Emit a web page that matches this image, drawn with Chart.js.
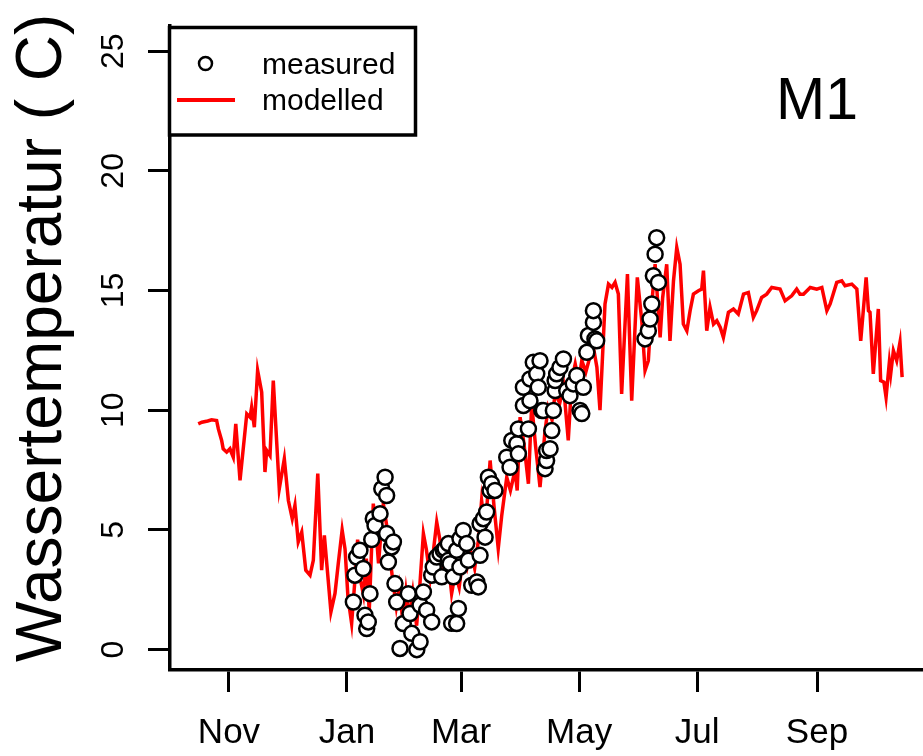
<!DOCTYPE html>
<html><head><meta charset="utf-8">
<script src="https://cdn.jsdelivr.net/npm/chart.js@4/dist/chart.umd.min.js"></script>
<style>html,body{margin:0;padding:0;background:#fff;overflow:hidden}canvas{display:block}</style>
</head><body>
<canvas id="c" width="923" height="756"></canvas>
<script>
// x values are day numbers counted from 1 October (day 0)
const monthLabels = ['Nov', 'Jan', 'Mar', 'May', 'Jul', 'Sep'];
const monthDays = [31, 92, 151, 212, 273, 335];
const yTicks = [0, 5, 10, 15, 20, 25];
const yTitle = 'Wassertemperatur ( C)';
const panelLabel = 'M1';
const legendLabels = ['measured', 'modelled'];

const modelDay = [15.1,17,20,22,24.6,25.5,27.2,28,29.8,31.5,32.4,33.2,34.5,36.7,38.5,40.2,41.9,42.7,44.1,45.8,47.9,49.6,50.5,52.2,53.9,57,59.6,61.7,63.7,65.1,66.8,68.6,70.7,72.9,74.6,76.9,78.9,80.3,83.7,85.8,87.5,89.5,91,92.5,94.4,96,97.5,99,100.5,102,103.5,105.6,107,108.3,110.8,112.5,114,115.5,117.5,119,121,122.5,124,126,128,129.5,131.5,133,135,136.5,138.4,140,141.5,143.5,146.1,148,150,152,154,156,158,160,161.6,163.5,166,168,170.2,172,174.6,176.5,178.9,180,181.5,183.5,185.8,187.5,189.5,191.8,194.4,196,198,199.6,202,204,206.4,208.2,210,211.8,213.4,215.5,217.5,219.4,221.2,222.8,225.4,227.2,229,230.6,232.3,234,237,239.2,242.1,244.4,246.1,247.8,249.6,251.3,253.9,255.2,257.3,259,260.8,262.5,264.2,265.9,267.7,269.4,271.1,273.7,275.4,276.3,278,279.7,281.5,283.2,285,286.6,289.2,291.8,294.3,297,299.5,302.1,303.8,306.4,309,311.6,315.9,318.5,321.9,324.5,326.2,328,331.5,334.9,337.5,340.1,341.8,345.2,347.8,349.5,353,355.6,357.6,360.4,361.6,362.4,364.1,366.7,367.9,369.6,370.7,372.4,373.1,374.5,376.2,377.9,379];
const modelTemp = [9.43,9.5,9.55,9.6,9.57,9.22,8.74,8.39,8.25,8.39,8.2,8.04,9.43,7.07,8.5,9.85,9.71,10.13,9.29,11.66,10.75,7.42,8.32,8.11,11.24,6.72,7.97,6.23,5.47,6.03,4.5,4.91,3.32,3.11,3.73,7.35,3.32,4.77,1.58,2.35,3.6,5.0,4.2,2.2,1.1,2.8,4.6,2.9,2.3,3.8,1.6,6.1,5.0,3.6,6.1,5.2,4.0,3.0,1.8,2.6,1.1,2.4,1.3,2.4,1.0,2.5,4.85,4.2,3.0,4.0,5.33,4.6,3.6,4.3,2.34,3.2,2.6,3.87,3.4,4.1,3.4,4.6,6.23,5.0,7.9,6.0,4.22,5.6,7.2,6.65,7.49,6.65,9.71,8.6,6.93,10.27,8.5,6.79,9.15,10.1,9.6,10.7,10.3,11.0,8.74,11.24,11.93,11.2,12.07,11.6,12.2,12.63,11.8,10.0,14.44,15.27,15.13,15.34,14.85,10.68,15.69,10.4,15.55,13.74,11.66,12.07,14.44,16.1,13.04,14.7,16.1,12.9,15.4,16.8,16.1,13.6,13.32,14.16,14.85,14.99,15.06,15.83,13.32,14.3,13.6,13.74,13.46,13.04,14.09,14.23,14.02,14.85,14.92,13.88,14.16,14.71,14.85,15.13,15.06,14.57,14.78,15.06,14.85,14.85,15.13,15.06,15.13,14.16,14.44,15.34,15.41,15.2,15.27,15.06,12.9,15.55,14.16,14.09,11.52,14.23,11.24,11.17,10.54,12.0,11.52,12.49,12.07,12.84,11.38];

const measDay = [95.3,96.1,97.0,98.7,100.4,101.3,102.2,103.0,103.9,104.8,105.6,106.5,109.1,110.0,111.7,112.5,112.5,113.4,115.1,116.0,116.8,117.7,119.4,121.1,123.7,124.6,125.5,128.1,129.8,129.8,131.5,133.2,135.8,135.8,136.6,138.4,140.1,141.0,141.8,142.7,144.4,144.4,145.3,146.1,147.0,148.7,148.7,149.6,150.4,150.4,152.1,153.9,154.7,156.5,159.1,159.9,160.8,160.8,162.5,163.4,164.2,165.1,166.0,166.8,168.5,174.6,176.3,177.2,179.8,180.6,180.6,183.2,183.2,185.8,186.6,186.6,188.3,190.1,190.9,191.8,192.7,193.5,194.4,195.2,195.2,197.0,197.9,198.7,199.6,199.6,200.4,202.1,203.9,205.6,207.3,209.0,210.8,212.5,213.4,214.2,216.0,216.8,219.4,219.4,220.2,221.1,246.1,247.8,248.7,249.6,250.4,251.3,252.1,253.0];
const measTemp = [1.99,3.11,3.87,4.15,3.39,1.44,0.88,1.16,2.34,4.6,5.47,5.19,5.68,6.72,7.2,6.44,4.85,3.66,4.29,4.5,2.76,1.99,0.05,1.09,2.34,1.51,0.68,0,0.33,1.86,2.41,1.65,1.16,3.11,3.45,3.87,4.01,3.04,4.15,4.22,4.43,3.73,3.59,1.1,3.04,4.15,1.09,1.72,4.64,3.45,4.98,4.43,3.73,2.69,2.83,2.62,3.94,5.26,5.47,4.7,5.75,7.2,6.65,6.93,6.65,8.04,7.62,8.74,8.6,8.18,9.22,10.2,10.96,9.22,10.4,11.31,12.0,11.52,10.96,12.07,9.99,9.99,7.56,7.9,8.32,8.39,9.15,9.99,10.82,11.24,11.52,11.79,12.14,10.82,10.61,11.1,11.45,9.99,9.86,10.96,12.42,13.12,13.67,14.16,12.98,12.9,12.98,13.32,13.81,14.44,15.62,16.52,17.21,15.34];

const FONT = "'Liberation Sans', Arial, sans-serif";

const modelPoints = modelDay.map((d, i) => ({x: d, y: modelTemp[i]}));
const measPoints = measDay.map((d, i) => ({x: d, y: measTemp[i]}));

const decor = {
  id: 'decor',
  afterDraw(chart) {
    const ctx = chart.ctx;
    const a = chart.chartArea;
    // y axis title
    ctx.save();
    ctx.fillStyle = '#000';
    ctx.font = '64px ' + FONT;
    ctx.textAlign = 'left';
    ctx.textBaseline = 'alphabetic';
    ctx.translate(61, 662);
    ctx.rotate(-Math.PI / 2);
    ctx.fillText(yTitle, 0, 0);
    ctx.restore();
    // panel label
    ctx.save();
    ctx.fillStyle = '#000';
    ctx.font = '59px ' + FONT;
    ctx.textAlign = 'left';
    ctx.textBaseline = 'alphabetic';
    ctx.fillText(panelLabel, 776, 119);
    ctx.restore();
    // legend box
    ctx.save();
    const lx = a.left - 0.5, ly = a.top + 1.5, lw = 246, lh = 107.5;
    ctx.fillStyle = '#fff';
    ctx.fillRect(lx, ly, lw, lh);
    ctx.lineWidth = 3.5;
    ctx.strokeStyle = '#000';
    ctx.strokeRect(lx, ly, lw, lh);
    ctx.beginPath();
    ctx.arc(205.5, 63.5, 6.5, 0, Math.PI * 2);
    ctx.fillStyle = '#fff';
    ctx.fill();
    ctx.lineWidth = 2.5;
    ctx.strokeStyle = '#000';
    ctx.stroke();
    ctx.beginPath();
    ctx.moveTo(177, 100);
    ctx.lineTo(235, 100);
    ctx.lineWidth = 4;
    ctx.strokeStyle = '#ff0000';
    ctx.stroke();
    ctx.fillStyle = '#000';
    ctx.font = '30px ' + FONT;
    ctx.textAlign = 'left';
    ctx.textBaseline = 'alphabetic';
    ctx.fillText(legendLabels[0], 262, 74);
    ctx.fillText(legendLabels[1], 262, 110);
    ctx.restore();
  }
};

new Chart(document.getElementById('c'), {
  type: 'scatter',
  data: {
    datasets: [
      {
        label: legendLabels[0],
        data: measPoints,
        showLine: false,
        pointRadius: 7.5,
        pointBorderWidth: 2.5,
        pointBorderColor: '#000',
        pointBackgroundColor: '#fff',
        order: 0
      },
      {
        label: legendLabels[1],
        data: modelPoints,
        showLine: true,
        borderColor: '#ff0000',
        borderWidth: 3.5,
        pointRadius: 0,
        tension: 0,
        order: 1
      }
    ]
  },
  options: {
    responsive: false,
    animation: false,
    events: [],
    layout: {autoPadding: false, padding: {left: 0, right: 0, top: 26, bottom: 0}},
    plugins: {legend: {display: false}, tooltip: {enabled: false}},
    scales: {
      x: {
        type: 'linear',
        min: 0.5,
        max: 389.8,
        afterBuildTicks: s => { s.ticks = monthDays.map(v => ({value: v})); },
        afterFit: s => { s.height = 86; s.paddingLeft = 0; s.paddingRight = 0; },
        ticks: {
          autoSkip: false,
          maxRotation: 0,
          minRotation: 0,
          padding: 20,
          color: '#000',
          font: {family: FONT, size: 35},
          callback: (v) => { const i = monthDays.indexOf(v); return i >= 0 ? monthLabels[i] : ''; }
        },
        grid: {drawOnChartArea: false, drawTicks: true, tickLength: 22, tickWidth: 3, tickColor: '#000'},
        border: {display: true, color: '#000', width: 3.5}
      },
      y: {
        type: 'linear',
        min: -0.85,
        max: 26.05,
        afterBuildTicks: s => { s.ticks = yTicks.map(v => ({value: v})); },
        afterFit: s => { s.width = 170; s.paddingTop = 0; s.paddingBottom = 0; },
        ticks: {
          minRotation: 90,
          maxRotation: 90,
          crossAlign: 'center',
          padding: 16,
          color: '#000',
          font: {family: FONT, size: 32},
          callback: (v) => String(v)
        },
        grid: {drawOnChartArea: false, drawTicks: true, tickLength: 22, tickWidth: 3, tickColor: '#000'},
        border: {display: true, color: '#000', width: 3.5}
      }
    }
  },
  plugins: [decor]
});
</script>
</body></html>
